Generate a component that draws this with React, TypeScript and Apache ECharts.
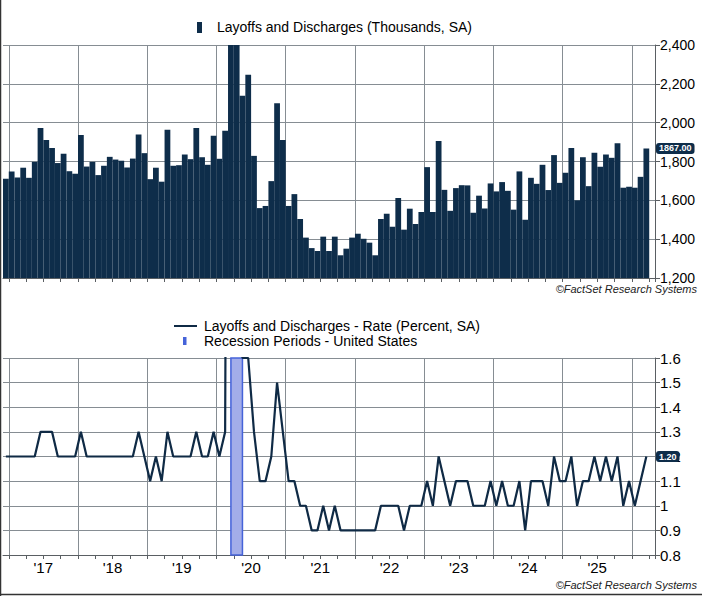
import React, { useEffect, useRef } from 'react';
import * as echarts from 'echarts';

// monthly, Dec 2016 .. Mar 2026 (one empty slot for Apr 2026 at the end)
const startYear = 2016;
const startMonth = 12;
const monthCount = 113;

const layoffs = [
  1711,
  1749, 1718, 1768, 1716, 1798, 1973, 1911, 1870, 1792, 1840, 1750, 1737,
  1937, 1774, 1798, 1730, 1778, 1824, 1810, 1804, 1769, 1815, 1939, 1843,
  1709, 1768, 1696, 1963, 1778, 1781, 1836, 1812, 1973, 1822, 1783, 1932,
  1814, 1958, 11500, 7700, 2139, 2247, 1829, 1560, 1571, 1699, 2100, 1911,
  1571, 1632, 1504, 1408, 1354, 1339, 1413, 1339, 1413, 1317, 1351, 1408,
  1428, 1402, 1382, 1317, 1504, 1531, 1464, 1612, 1449, 1557, 1478, 1540,
  1771, 1540, 1906, 1654, 1546, 1663, 1678, 1677, 1536, 1624, 1558, 1687,
  1646, 1694, 1649, 1552, 1749, 1500, 1716, 1685, 1783, 1653, 1833, 1690,
  1742, 1870, 1600, 1822, 1673, 1845, 1773, 1836, 1819, 1894, 1665, 1670,
  1665, 1721, 1867,
];

const layoffRate = [
  1.2,
  1.2, 1.2, 1.2, 1.2, 1.2, 1.3, 1.3, 1.3, 1.2, 1.2, 1.2, 1.2,
  1.3, 1.2, 1.2, 1.2, 1.2, 1.2, 1.2, 1.2, 1.2, 1.2, 1.3, 1.2,
  1.1, 1.2, 1.1, 1.3, 1.2, 1.2, 1.2, 1.2, 1.3, 1.2, 1.2, 1.3,
  1.2, 1.3, 7.5, 5.9, 1.6, 1.6, 1.3, 1.1, 1.1, 1.2, 1.5, 1.3,
  1.1, 1.1, 1.0, 1.0, 0.9, 0.9, 1.0, 0.9, 1.0, 0.9, 0.9, 0.9,
  0.9, 0.9, 0.9, 0.9, 1.0, 1.0, 1.0, 1.0, 0.9, 1.0, 1.0, 1.0,
  1.1, 1.0, 1.2, 1.1, 1.0, 1.1, 1.1, 1.1, 1.0, 1.0, 1.0, 1.1,
  1.0, 1.1, 1.0, 1.0, 1.1, 0.9, 1.1, 1.1, 1.1, 1.0, 1.2, 1.1,
  1.1, 1.2, 1.0, 1.1, 1.1, 1.2, 1.1, 1.2, 1.1, 1.2, 1.0, 1.1,
  1.0, 1.1, 1.2,
];

// recession: Mar 2020 - Apr 2020
const recessionStart = '2020-03';
const recessionEnd = '2020-04';

const barName = 'Layoffs and Discharges (Thousands, SA)';
const lineName = 'Layoffs and Discharges - Rate (Percent, SA)';
const recessionName = 'Recession Periods - United States';
const credit = '\u00A9FactSet Research Systems';

const FONT = '"Liberation Sans", Arial, sans-serif';
const NAVY = '#0e2d4a';
const LINE_NAVY = '#0f2a45';
const GRID_GRAY = '#868d93';
const AXIS_GRAY = '#5a5f63';
const REC_FILL = '#a3ade9';
const REC_BORDER = '#4563d9';

const months: string[] = [];
for (let i = 0; i < monthCount; i++) {
  const m0 = startMonth - 1 + i;
  const y = startYear + Math.floor(m0 / 12);
  const m = (m0 % 12) + 1;
  months.push(`${y}-${String(m).padStart(2, '0')}`);
}

const isJan = (i: number) => months[i] && months[i].endsWith('-01');
const isQuarter = (i: number) => {
  const m = months[i] ? Number(months[i].slice(5)) : 0;
  return m === 1 || m === 4 || m === 7 || m === 10;
};
const isJul = (i: number) => months[i] && months[i].endsWith('-07');

export default function App() {
  const chartRef = useRef<HTMLDivElement>(null);

  useEffect(() => {
    if (!chartRef.current) return;
    const chart = echarts.init(chartRef.current, null, { renderer: 'svg' });

    const xAxisBase = (gridIndex: number, showLabels: boolean) => ({
      type: 'category',
      gridIndex,
      data: months,
      boundaryGap: true,
      axisLine: { show: true, lineStyle: { color: AXIS_GRAY, width: 1 } },
      axisTick: {
        show: true,
        length: 4,
        interval: (i: number) => isQuarter(i),
        lineStyle: { color: AXIS_GRAY },
      },
      splitLine: {
        show: true,
        interval: (i: number) => isJan(i),
        lineStyle: { color: GRID_GRAY, width: 1 },
      },
      axisLabel: showLabels
        ? {
            show: true,
            interval: (i: number) => isJul(i),
            formatter: (v: string) => "'" + v.slice(2, 4),
            color: '#000',
            fontSize: 15,
            fontFamily: FONT,
            margin: 5,
            padding: [0, 6, 0, 0],
          }
        : { show: false },
    });

    const lastBar = layoffs[layoffs.length - 1];
    const lastRate = layoffRate[layoffRate.length - 1];

    const pointerLabel = (digits: number) => ({
      show: true,
      backgroundColor: NAVY,
      color: '#fff',
      fontSize: 9,
      fontWeight: 'bold',
      fontFamily: FONT,
      padding: [1, 3, 1, 3],
      borderRadius: 3,
      margin: 1,
      formatter: (p: any) => Number(p.value).toFixed(digits),
    });

    chart.setOption({
      animation: false,
      backgroundColor: '#fff',
      grid: [
        { left: 3, right: 47, top: 45, height: 233 },
        { left: 3, right: 47, top: 358, height: 197 },
      ],
      xAxis: [xAxisBase(0, false), xAxisBase(1, true)],
      yAxis: [
        {
          type: 'value',
          gridIndex: 0,
          position: 'right',
          min: 1200,
          max: 2400,
          interval: 200,
          axisLine: { show: true, lineStyle: { color: AXIS_GRAY } },
          axisTick: { show: true, length: 5, lineStyle: { color: AXIS_GRAY } },
          splitLine: { show: true, lineStyle: { color: GRID_GRAY } },
          axisLabel: {
            color: '#000',
            fontSize: 14,
            fontFamily: FONT,
            margin: 5,
            formatter: (v: number) => v.toLocaleString('en-US'),
          },
          axisPointer: {
            show: true,
            type: 'line',
            value: lastBar,
            status: 'show',
            snap: false,
            triggerTooltip: false,
            lineStyle: { opacity: 0 },
            label: pointerLabel(2),
          },
        },
        {
          type: 'value',
          gridIndex: 1,
          position: 'right',
          min: 0.8,
          max: 1.6,
          interval: 0.1,
          axisLine: { show: true, lineStyle: { color: AXIS_GRAY } },
          axisTick: { show: true, length: 5, lineStyle: { color: AXIS_GRAY } },
          splitLine: { show: true, lineStyle: { color: GRID_GRAY } },
          axisLabel: {
            color: '#000',
            fontSize: 15,
            fontFamily: FONT,
            margin: 5,
            formatter: (v: number) => String(Math.round(v * 10) / 10),
          },
          axisPointer: {
            show: true,
            type: 'line',
            value: lastRate,
            status: 'show',
            snap: false,
            triggerTooltip: false,
            lineStyle: { opacity: 0 },
            label: pointerLabel(2),
          },
        },
      ],
      series: [
        {
          name: barName,
          type: 'bar',
          xAxisIndex: 0,
          yAxisIndex: 0,
          data: layoffs,
          barCategoryGap: '0%',
          itemStyle: { color: NAVY },
          clip: true,
        },
        {
          name: recessionName,
          type: 'line',
          xAxisIndex: 1,
          yAxisIndex: 1,
          data: [],
          markArea: {
            silent: true,
            itemStyle: { color: REC_FILL, borderColor: REC_BORDER, borderWidth: 1.5 },
            data: [
              [
                { xAxis: months.indexOf(recessionStart) - 0.5 },
                { xAxis: months.indexOf(recessionEnd) + 0.5 },
              ],
            ],
          },
        },
        {
          name: lineName,
          type: 'line',
          xAxisIndex: 1,
          yAxisIndex: 1,
          data: layoffRate,
          showSymbol: false,
          symbol: 'none',
          clip: true,
          lineStyle: { color: LINE_NAVY, width: 2.2 },
          itemStyle: { color: LINE_NAVY },
          z: 3,
        },
      ],
      graphic: [
        // legends
        { type: 'rect', shape: { x: 197, y: 22, width: 5, height: 11 }, style: { fill: NAVY } },
        {
          type: 'text', x: 217, y: 27,
          style: { text: barName, font: `14px ${FONT}`, fill: '#000', verticalAlign: 'middle' },
        },
        { type: 'line', shape: { x1: 174, y1: 326, x2: 197, y2: 326 }, style: { stroke: LINE_NAVY, lineWidth: 2 } },
        {
          type: 'text', x: 204, y: 326,
          style: { text: lineName, font: `14px ${FONT}`, fill: '#000', verticalAlign: 'middle' },
        },
        { type: 'rect', shape: { x: 183, y: 337, width: 3.5, height: 8 }, style: { fill: REC_BORDER } },
        {
          type: 'text', x: 204, y: 341,
          style: { text: recessionName, font: `14px ${FONT}`, fill: '#000', verticalAlign: 'middle' },
        },
        // credits
        {
          type: 'text', x: 697, y: 289,
          style: { text: credit, font: `italic 11px ${FONT}`, fill: '#222', align: 'right', verticalAlign: 'middle' },
        },
        {
          type: 'text', x: 697, y: 585,
          style: { text: credit, font: `italic 11px ${FONT}`, fill: '#222', align: 'right', verticalAlign: 'middle' },
        },
        // frame
        { type: 'line', shape: { x1: 0.5, y1: 0, x2: 0.5, y2: 596 }, style: { stroke: '#333', lineWidth: 1.5 } },
        { type: 'line', shape: { x1: 0, y1: 594.5, x2: 702, y2: 594.5 }, style: { stroke: '#333', lineWidth: 1.5 } },
      ],
    });

    return () => {
      chart.dispose();
    };
  }, []);

  return (
    <div
      ref={chartRef}
      style={{ position: 'absolute', left: 0, top: 0, width: 702, height: 596, background: '#fff' }}
    />
  );
}
